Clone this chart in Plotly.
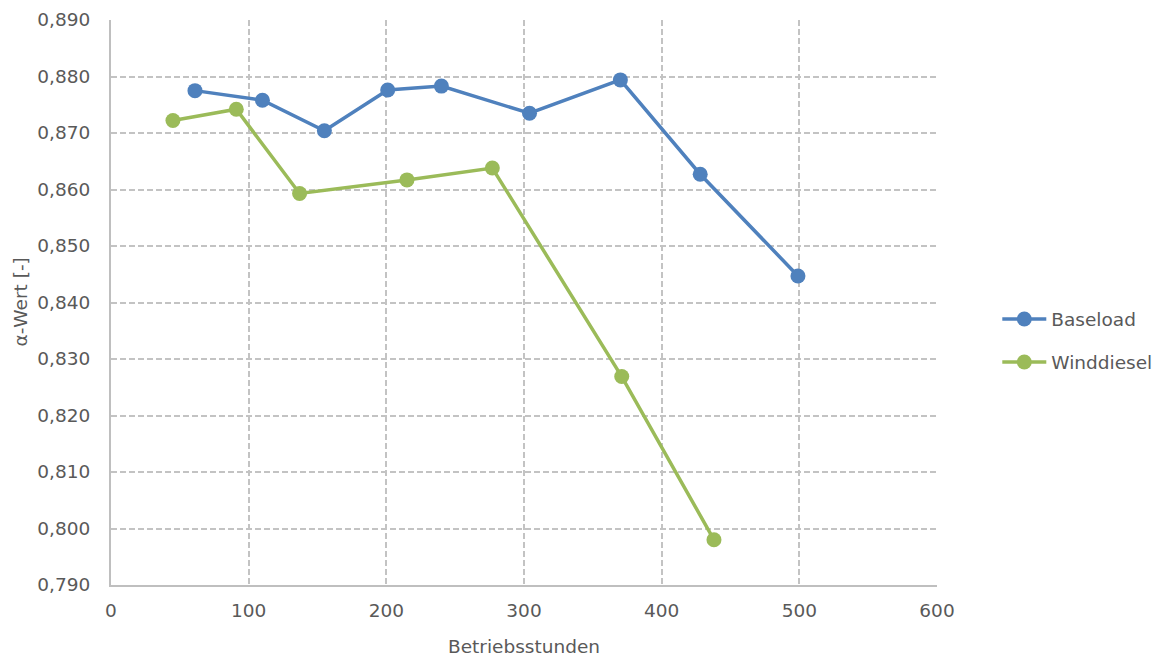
import plotly.graph_objects as go

base_x = [61, 110, 155, 201, 240, 304, 370, 428, 499]
base_y = [0.8775, 0.8758, 0.8704, 0.8776, 0.8783, 0.8735, 0.8794, 0.8627, 0.8447]
wind_x = [45, 91, 137, 215, 277, 371, 438]
wind_y = [0.8722, 0.8742, 0.8593, 0.8617, 0.8638, 0.8269, 0.7980]

x_ticks = [0, 100, 200, 300, 400, 500, 600]
y_ticks = [0.79, 0.80, 0.81, 0.82, 0.83, 0.84, 0.85, 0.86, 0.87, 0.88, 0.89]
y_labels = ["0,790", "0,800", "0,810", "0,820", "0,830", "0,840", "0,850", "0,860", "0,870", "0,880", "0,890"]

FS = 18.5
fig = go.Figure()
fig.add_trace(go.Scatter(x=base_x, y=base_y, name="Baseload", mode="lines+markers", legendgroup="a",
                         line=dict(color="#4F81BD", width=3.5), marker=dict(size=15, color="#4F81BD")))
fig.add_trace(go.Scatter(x=wind_x, y=wind_y, name="Winddiesel", mode="lines+markers", legendgroup="b",
                         line=dict(color="#9BBB59", width=3.5), marker=dict(size=15, color="#9BBB59")))

grid = dict(showgrid=True, gridcolor="#C3C3C3", griddash="6px,3px", gridwidth=1.5)
fig.update_xaxes(range=[0, 600], tickvals=x_ticks, ticktext=[str(v) for v in x_ticks],
                 showline=True, linecolor="#BFBFBF", linewidth=2, zeroline=False, automargin=False,
                 title=dict(text="Betriebsstunden", font=dict(size=FS, color="#595959"), standoff=20),
                 tickfont=dict(size=FS, color="#595959"), ticks="", ticklabelstandoff=8, **grid)
fig.update_yaxes(range=[0.79, 0.89], tickvals=y_ticks, ticktext=y_labels,
                 showline=True, linecolor="#BFBFBF", linewidth=2, zeroline=False, automargin=False,
                 tickfont=dict(size=FS, color="#595959"), ticks="", ticklabelstandoff=15, **grid)

fig.add_annotation(text="α-Wert [-]", xref="paper", yref="paper", x=0, y=0.5,
                   xanchor="center", yanchor="middle", xshift=-91, textangle=-90, showarrow=False,
                   font=dict(size=FS, color="#595959"))

fig.update_layout(
    width=1161, height=657,
    margin=dict(l=103, r=230, t=12, b=80),
    plot_bgcolor="white", paper_bgcolor="white",
    font=dict(family="DejaVu Sans", size=FS, color="#595959"),
    legend=dict(x=1.073, y=0.432, xanchor="left", yanchor="middle", font=dict(size=FS, color="#595959"),
                traceorder="grouped", tracegroupgap=16, itemwidth=44),
    showlegend=True,
)
fig.write_html("out.html")
